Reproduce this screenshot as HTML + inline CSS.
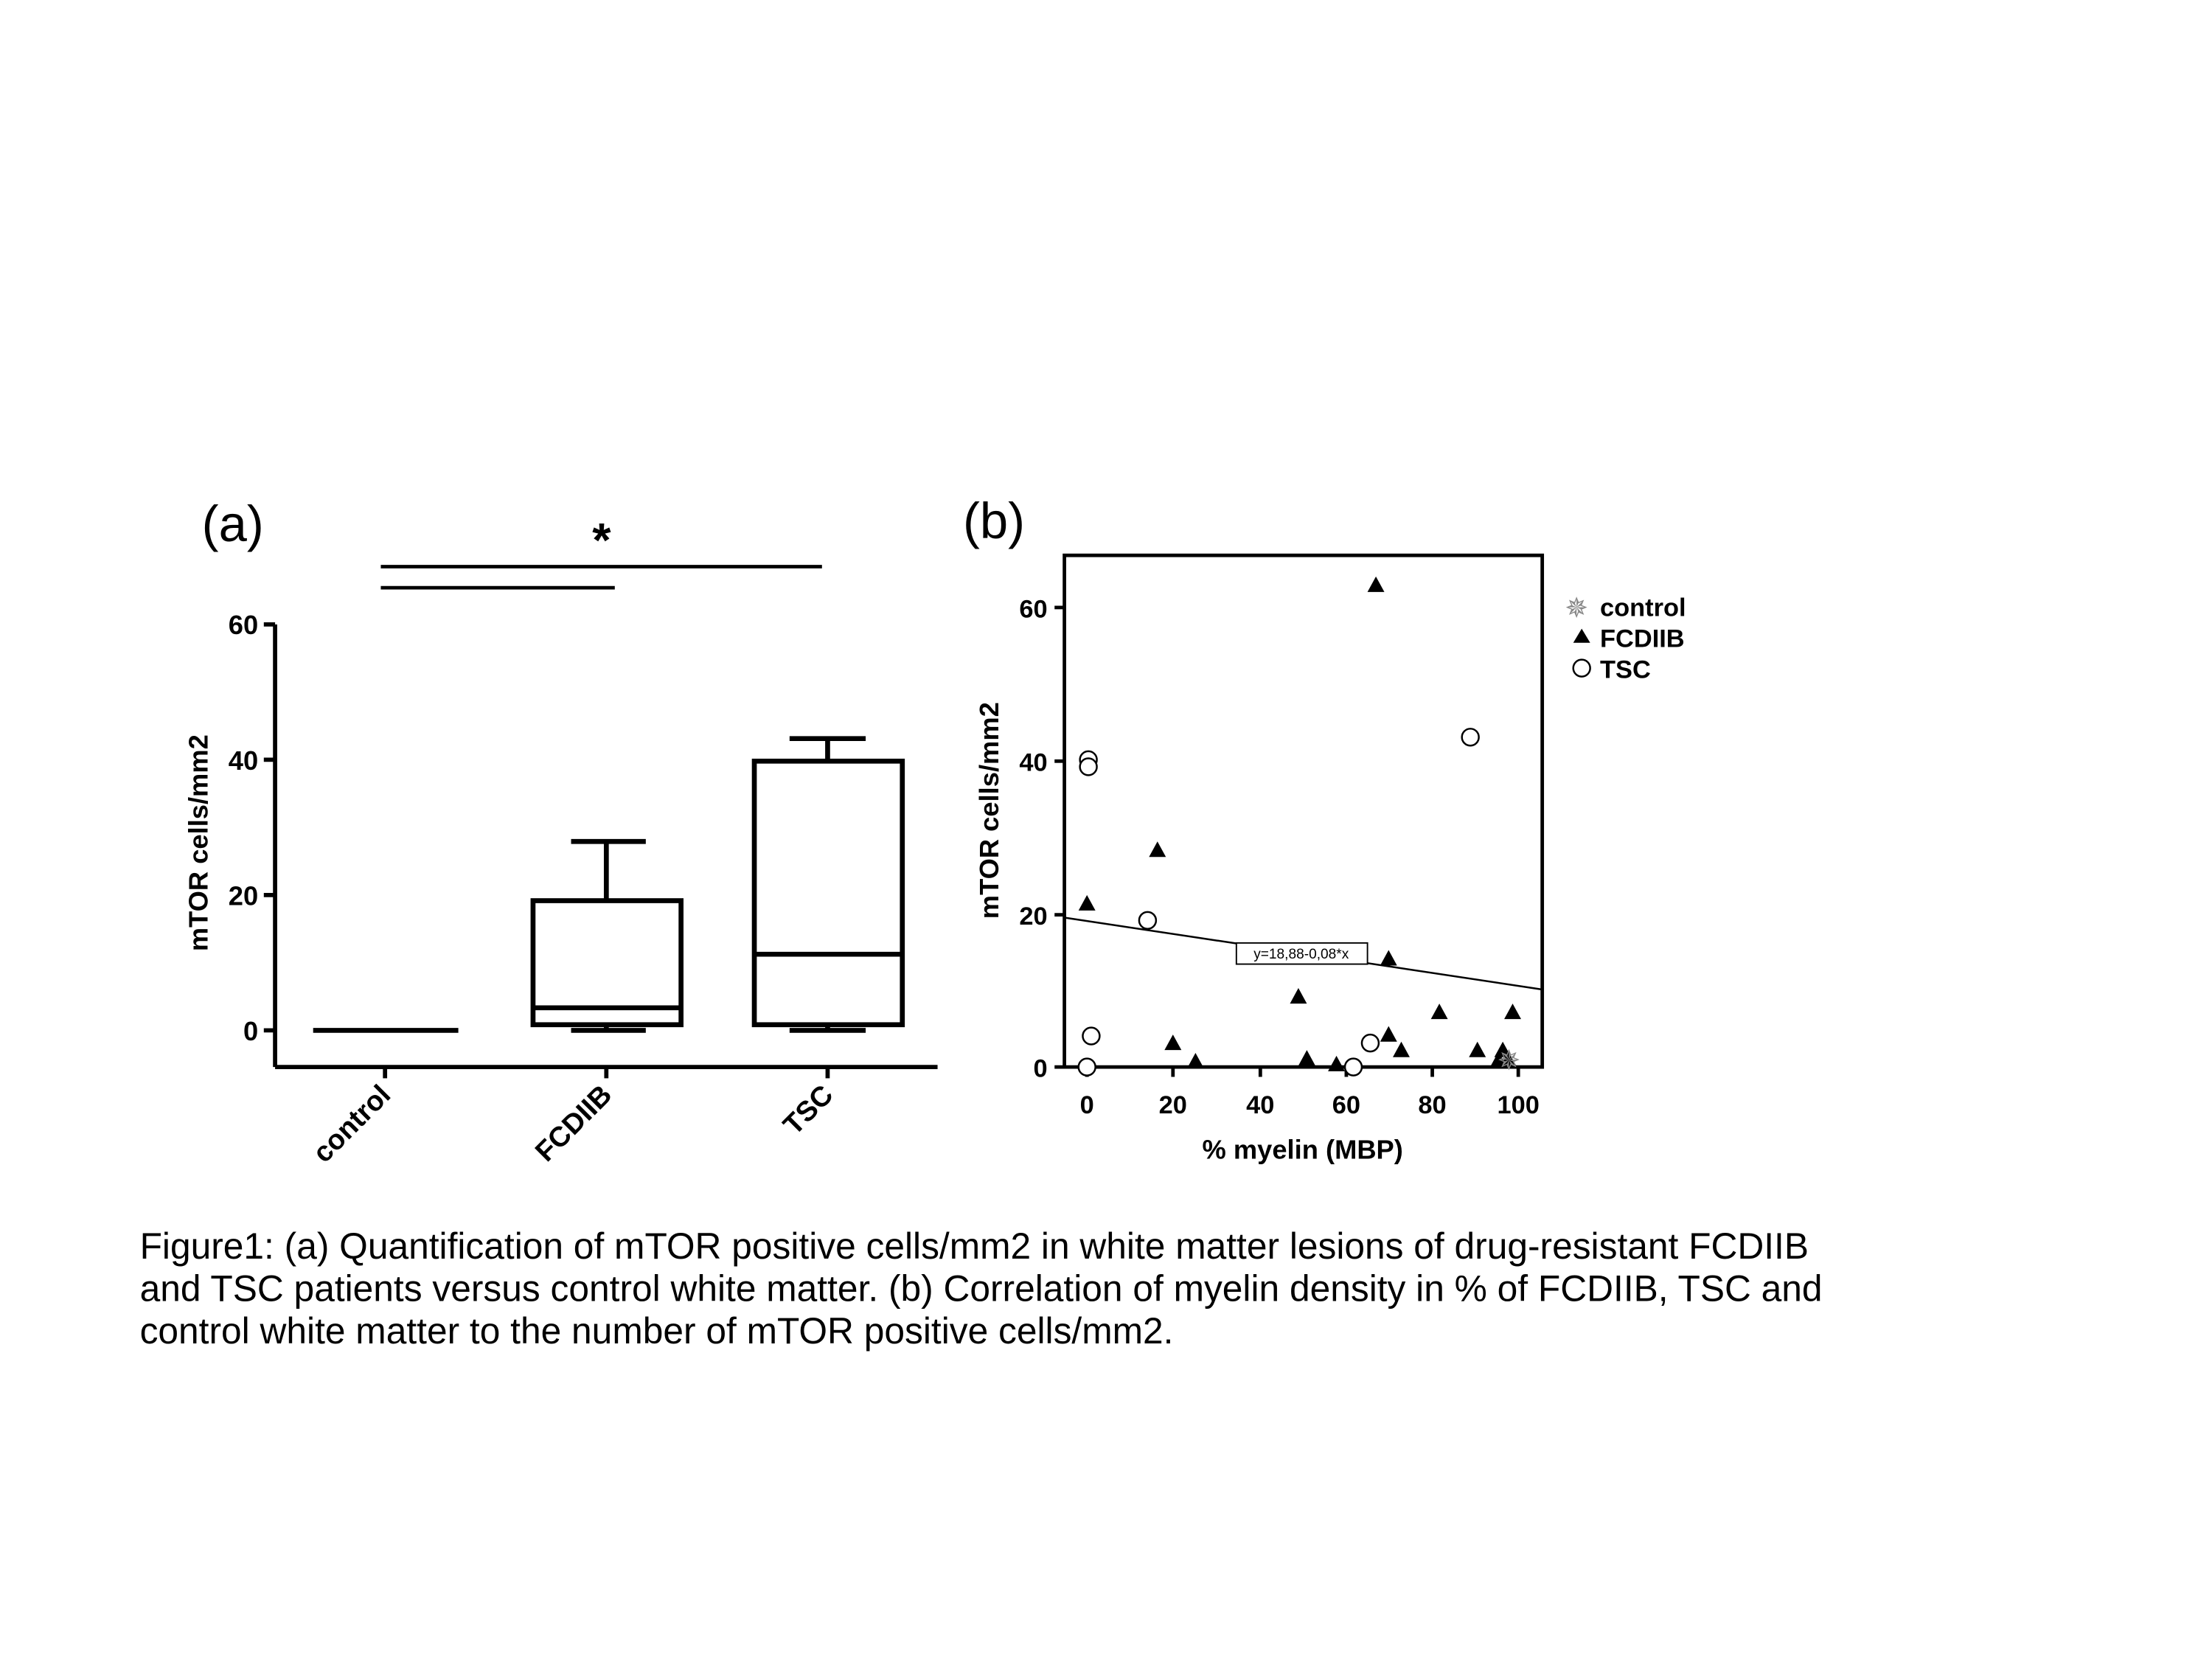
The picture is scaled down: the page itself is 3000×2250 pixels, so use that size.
<!DOCTYPE html>
<html><head><meta charset="utf-8"><style>html,body{margin:0;padding:0;background:#fff}svg{display:block}</style></head>
<body>
<svg width="3000" height="2250" viewBox="0 0 1569 1177" xmlns="http://www.w3.org/2000/svg" font-family="Liberation Sans, Arial, sans-serif">
<rect width="1569" height="1177" fill="#fff"/>
<!-- Panel a -->
<text x="143" y="384" font-size="36">(a)</text>
<text x="420" y="395" font-size="34" font-weight="bold">*</text>
<g stroke="#000" stroke-width="2.5" fill="none">
<line x1="270" y1="402" x2="583" y2="402"/>
<line x1="270" y1="417" x2="436" y2="417"/>
</g>
<g stroke="#000" stroke-width="3" fill="none">
<line x1="195" y1="443" x2="195" y2="757"/>
<line x1="195" y1="757" x2="665" y2="757"/>
<line x1="187" y1="443" x2="195" y2="443"/>
<line x1="187" y1="539" x2="195" y2="539"/>
<line x1="187" y1="635" x2="195" y2="635"/>
<line x1="187" y1="731" x2="195" y2="731"/>
<line x1="273" y1="757" x2="273" y2="765"/>
<line x1="430" y1="757" x2="430" y2="765"/>
<line x1="587" y1="757" x2="587" y2="765"/>
</g>
<g stroke="#000" stroke-width="3.5" fill="none">
<line x1="222" y1="731" x2="325" y2="731"/>
<rect x="378" y="639" width="105" height="88"/>
<line x1="378" y1="715" x2="483" y2="715"/>
<line x1="430" y1="639" x2="430" y2="597"/>
<line x1="405" y1="597" x2="458" y2="597"/>
<line x1="430" y1="727" x2="430" y2="731"/>
<line x1="405" y1="731" x2="458" y2="731"/>
<rect x="535" y="540" width="105" height="187"/>
<line x1="535" y1="677" x2="640" y2="677"/>
<line x1="587" y1="540" x2="587" y2="524"/>
<line x1="560" y1="524" x2="614" y2="524"/>
<line x1="587" y1="727" x2="587" y2="731"/>
<line x1="560" y1="731" x2="614" y2="731"/>
</g>
<g font-size="19" font-weight="bold" text-anchor="end">
<text x="183" y="450">60</text><text x="183" y="546">40</text><text x="183" y="642">20</text><text x="183" y="738">0</text>
</g>
<text transform="translate(147,598) rotate(-90)" font-size="19" font-weight="bold" text-anchor="middle">mTOR cells/mm2</text>
<g font-size="20" font-weight="bold" text-anchor="end">
<text transform="translate(278,778) rotate(-45)">control</text>
<text transform="translate(435,778) rotate(-45)">FCDIIB</text>
<text transform="translate(592,778) rotate(-45)">TSC</text>
</g>
<!-- Panel b -->
<text x="683" y="382" font-size="36">(b)</text>
<rect x="755" y="394" width="339" height="363" fill="none" stroke="#000" stroke-width="2.5"/>
<g stroke="#000" stroke-width="2.5">
<line x1="748" y1="431" x2="755" y2="431"/><line x1="748" y1="540" x2="755" y2="540"/><line x1="748" y1="649" x2="755" y2="649"/><line x1="748" y1="757" x2="755" y2="757"/>
<line x1="771" y1="757" x2="771" y2="764"/><line x1="832" y1="757" x2="832" y2="764"/><line x1="894" y1="757" x2="894" y2="764"/><line x1="955" y1="757" x2="955" y2="764"/><line x1="1016" y1="757" x2="1016" y2="764"/><line x1="1077" y1="757" x2="1077" y2="764"/>
</g>
<g font-size="18" font-weight="bold" text-anchor="end">
<text x="743" y="438">60</text><text x="743" y="547">40</text><text x="743" y="656">20</text><text x="743" y="764">0</text>
</g>
<g font-size="18" font-weight="bold" text-anchor="middle">
<text x="771" y="790">0</text><text x="832" y="790">20</text><text x="894" y="790">40</text><text x="955" y="790">60</text><text x="1016" y="790">80</text><text x="1077" y="790">100</text>
</g>
<text x="924" y="822" font-size="19" font-weight="bold" text-anchor="middle">% myelin (MBP)</text>
<text transform="translate(708,575) rotate(-90)" font-size="19" font-weight="bold" text-anchor="middle">mTOR cells/mm2</text>
<line x1="755" y1="651" x2="1094" y2="702" stroke="#000" stroke-width="1.3"/>
<rect x="877" y="669" width="93" height="15" fill="#fff" stroke="#000" stroke-width="1"/>
<text x="923" y="680" font-size="10" text-anchor="middle">y=18,88-0,08*x</text>
<g fill="#000">
<path d="M0,-6 L6,5 L-6,5 Z" transform="translate(976,415)"/>
<path d="M0,-6 L6,5 L-6,5 Z" transform="translate(771,641)"/>
<path d="M0,-6 L6,5 L-6,5 Z" transform="translate(821,603)"/>
<path d="M0,-6 L6,5 L-6,5 Z" transform="translate(985,680)"/>
<path d="M0,-6 L6,5 L-6,5 Z" transform="translate(921,707)"/>
<path d="M0,-6 L6,5 L-6,5 Z" transform="translate(832,740)"/>
<path d="M0,-6 L6,5 L-6,5 Z" transform="translate(848,753)"/>
<path d="M0,-6 L6,5 L-6,5 Z" transform="translate(927,751)"/>
<path d="M0,-6 L6,5 L-6,5 Z" transform="translate(948,755)"/>
<path d="M0,-6 L6,5 L-6,5 Z" transform="translate(985,734)"/>
<path d="M0,-6 L6,5 L-6,5 Z" transform="translate(994,745)"/>
<path d="M0,-6 L6,5 L-6,5 Z" transform="translate(1021,718)"/>
<path d="M0,-6 L6,5 L-6,5 Z" transform="translate(1048,745)"/>
<path d="M0,-6 L6,5 L-6,5 Z" transform="translate(1073,718)"/>
<path d="M0,-6 L6,5 L-6,5 Z" transform="translate(1066,745)"/>
<path d="M0,-6 L6,5 L-6,5 Z" transform="translate(1063,752)"/>
<path d="M0,-6 L6,5 L-6,5 Z" transform="translate(1070,752)"/>
</g>
<g fill="#fff" stroke="#000" stroke-width="1.3">
<circle cx="772" cy="539" r="6"/><circle cx="772" cy="544" r="6"/><circle cx="814" cy="653" r="6"/><circle cx="774" cy="735" r="6"/><circle cx="771" cy="757" r="6"/><circle cx="1043" cy="523" r="6"/><circle cx="972" cy="740" r="6"/><circle cx="960" cy="757" r="6"/>
</g>
<text x="1062" y="759" font-size="20" fill="#888">✵</text>
<!-- legend -->
<text x="1110" y="438" font-size="20" fill="#888">✵</text>
<text x="1135" y="437" font-size="18" font-weight="bold">control</text>
<path d="M1122,446 L1128,456 L1116,456 Z" fill="#000"/>
<text x="1135" y="459" font-size="18" font-weight="bold">FCDIIB</text>
<circle cx="1122" cy="474" r="6" fill="#fff" stroke="#000" stroke-width="1.3"/>
<text x="1135" y="481" font-size="18" font-weight="bold">TSC</text>
<!-- caption -->
<g font-size="26">
<text x="99" y="893">Figure1: (a) Quantification of mTOR positive cells/mm2 in white matter lesions of drug-resistant FCDIIB</text>
<text x="99" y="923">and TSC patients versus control white matter. (b) Correlation of myelin density in % of FCDIIB, TSC and</text>
<text x="99" y="953">control white matter to the number of mTOR positive cells/mm2.</text>
</g>
</svg>
</body></html>
